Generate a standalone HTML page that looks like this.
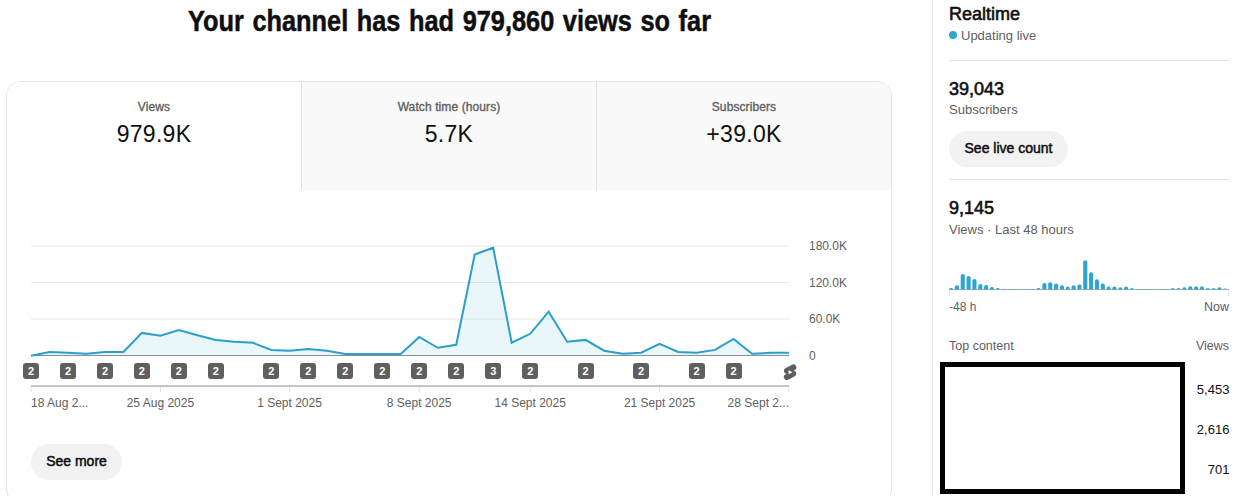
<!DOCTYPE html>
<html><head><meta charset="utf-8"><style>
*{margin:0;padding:0;box-sizing:border-box}
html,body{width:1239px;height:496px;overflow:hidden;background:#fff}
body{position:relative;font-family:"Liberation Sans",sans-serif;color:#0f0f0f}
.a{position:absolute;white-space:nowrap}
#title{position:absolute;left:0;top:4.1px;width:898px;text-align:center;font-weight:bold;font-size:30px;line-height:34px;color:#0f0f0f;-webkit-text-stroke:0.5px #0f0f0f}
#title span{display:inline-block;word-spacing:1.8px;transform:scaleX(0.845);transform-origin:center}
#card{position:absolute;left:6px;top:81px;width:886px;height:423px;border:1px solid #e3e3e3;border-radius:15px;overflow:hidden;background:#fff}
.tab{position:absolute;top:0;height:108px;text-align:center}
.tl{position:absolute;left:0;right:0;top:18px;font-size:12px;line-height:14px;color:#606060;letter-spacing:0.1px;-webkit-text-stroke:0.35px #606060}
.tv{position:absolute;left:0;right:0;top:38px;font-size:23px;line-height:28px;color:#0f0f0f;letter-spacing:0.3px}
svg{position:absolute;left:0;top:0}
.bd{position:absolute;top:363px;width:16px;height:16px;border-radius:3px;background:#5f5f5f;color:#fff;font-weight:bold;font-size:11px;line-height:16px;text-align:center}
.xl{position:absolute;top:396px;font-size:12px;line-height:14px;color:#606060;white-space:nowrap}
.yl{position:absolute;left:809px;font-size:12px;line-height:14px;color:#606060}
.btn{position:absolute;background:#f2f2f2;border-radius:18px;height:36px;font-size:14px;line-height:34px;text-align:center;color:#0f0f0f;-webkit-text-stroke:0.5px #0f0f0f}
#vline{position:absolute;left:932px;top:0;width:1px;height:496px;background:#e3e3e3}
.hr{position:absolute;left:949px;width:280px;height:1px;background:#e3e3e3}
.big{position:absolute;left:949px;font-size:18px;line-height:22px;color:#0f0f0f;-webkit-text-stroke:0.6px #0f0f0f}
.sub{position:absolute;left:949px;font-size:13px;line-height:16px;color:#606060;white-space:nowrap}
.sm{position:absolute;font-size:12px;line-height:14px;color:#606060;white-space:nowrap}
.num{position:absolute;right:9.6px;font-size:13px;line-height:16px;color:#0f0f0f;text-align:right}
</style></head><body>
<div id="title"><span>Your channel has had 979,860 views so far</span></div>
<div id="card">
  <div class="tab" style="left:0;width:294px;background:#fff"><div class="tl">Views</div><div class="tv">979.9K</div></div>
  <div class="tab" style="left:294px;width:295px;background:#f9f9f9;border-left:1px solid #e3e3e3"><div class="tl">Watch time (hours)</div><div class="tv">5.7K</div></div>
  <div class="tab" style="left:589px;width:295px;background:#f9f9f9;border-left:1px solid #e3e3e3"><div class="tl">Subscribers</div><div class="tv">+39.0K</div></div>
</div>
<svg width="932" height="496" viewBox="0 0 932 496">
  <g stroke="#e9e9e9" stroke-width="1">
    <line x1="31" y1="246" x2="789" y2="246"/>
    <line x1="31" y1="282.5" x2="789" y2="282.5"/>
    <line x1="31" y1="319" x2="789" y2="319"/>
  </g>
  <polygon points="31,355.5 31.00,355.7 49.49,351.9 67.98,352.7 86.46,353.7 104.95,352.0 123.44,352.0 141.93,332.9 160.41,335.7 178.90,330.0 197.39,335.2 215.88,340.0 234.37,341.8 252.85,342.8 271.34,350.0 289.83,350.8 308.32,348.9 326.80,350.7 345.29,353.9 363.78,353.9 382.27,353.9 400.76,353.9 419.24,337.0 437.73,347.8 456.22,344.8 474.71,254.6 493.20,247.7 511.68,342.7 530.17,333.8 548.66,311.7 567.15,341.7 585.63,339.9 604.12,350.7 622.61,353.7 641.10,352.7 659.59,343.8 678.07,352.0 696.56,352.8 715.05,349.9 733.54,338.9 752.02,353.8 770.51,352.8 789.00,352.8 789,355.5" fill="#2aa3d0" fill-opacity="0.1"/>
  <line x1="31" y1="355.5" x2="789" y2="355.5" stroke="#8c8c8c" stroke-width="1"/>
  <polyline points="31.00,355.7 49.49,351.9 67.98,352.7 86.46,353.7 104.95,352.0 123.44,352.0 141.93,332.9 160.41,335.7 178.90,330.0 197.39,335.2 215.88,340.0 234.37,341.8 252.85,342.8 271.34,350.0 289.83,350.8 308.32,348.9 326.80,350.7 345.29,353.9 363.78,353.9 382.27,353.9 400.76,353.9 419.24,337.0 437.73,347.8 456.22,344.8 474.71,254.6 493.20,247.7 511.68,342.7 530.17,333.8 548.66,311.7 567.15,341.7 585.63,339.9 604.12,350.7 622.61,353.7 641.10,352.7 659.59,343.8 678.07,352.0 696.56,352.8 715.05,349.9 733.54,338.9 752.02,353.8 770.51,352.8 789.00,352.8" fill="none" stroke="#2a9fcb" stroke-width="2" stroke-linejoin="miter"/>
  <line x1="31" y1="386" x2="789" y2="386" stroke="#c4c4c4" stroke-width="2"/>
  <g stroke="#e0e0e0" stroke-width="1"><line x1="31.0" y1="387" x2="31.0" y2="392" /><line x1="160.4" y1="387" x2="160.4" y2="392" /><line x1="289.5" y1="387" x2="289.5" y2="392" /><line x1="419.2" y1="387" x2="419.2" y2="392" /><line x1="530.2" y1="387" x2="530.2" y2="392" /><line x1="659.6" y1="387" x2="659.6" y2="392" /><line x1="789.0" y1="387" x2="789.0" y2="392" /></g>
  <g transform="translate(780.7,362.8) scale(0.785)">
    <path d="M17.77 10.32l-1.2-.5L18 9.06a3.74 3.74 0 00-3.5-6.62L6 6.94a3.74 3.74 0 00.23 6.74l1.2.49L6 14.93a3.75 3.75 0 003.5 6.63l8.5-4.5a3.74 3.74 0 00-.23-6.74z" fill="#5f5f5f"/>
    <path d="M10 14.65v-5.3L15 12l-5 2.65z" fill="#fff"/>
  </g>
</svg>
<div class="bd" style="left:23.0px">2</div><div class="bd" style="left:60.0px">2</div><div class="bd" style="left:97.0px">2</div><div class="bd" style="left:133.9px">2</div><div class="bd" style="left:170.9px">2</div><div class="bd" style="left:207.9px">2</div><div class="bd" style="left:263.3px">2</div><div class="bd" style="left:300.3px">2</div><div class="bd" style="left:337.3px">2</div><div class="bd" style="left:374.3px">2</div><div class="bd" style="left:411.2px">2</div><div class="bd" style="left:448.2px">2</div><div class="bd" style="left:485.2px">3</div><div class="bd" style="left:522.2px">2</div><div class="bd" style="left:577.6px">2</div><div class="bd" style="left:633.1px">2</div><div class="bd" style="left:688.6px">2</div><div class="bd" style="left:725.5px">2</div>
<div class="xl" style="left:31px">18 Aug 2...</div><div class="xl" style="left:100.4px;width:120px;text-align:center">25 Aug 2025</div><div class="xl" style="left:229.5px;width:120px;text-align:center">1 Sept 2025</div><div class="xl" style="left:359.2px;width:120px;text-align:center">8 Sept 2025</div><div class="xl" style="left:470.20000000000005px;width:120px;text-align:center">14 Sept 2025</div><div class="xl" style="left:599.6px;width:120px;text-align:center">21 Sept 2025</div><div class="xl" style="left:669px;width:120px;text-align:right">28 Sept 2...</div>
<div class="yl" style="top:239px">180.0K</div>
<div class="yl" style="top:275.5px">120.0K</div>
<div class="yl" style="top:312px">60.0K</div>
<div class="yl" style="top:348.5px">0</div>
<div class="btn" style="left:31px;top:444px;width:91px">See more</div>

<div id="vline"></div>
<div class="big" style="top:2.6px">Realtime</div>
<div style="position:absolute;left:949px;top:31px;width:8px;height:8px;border-radius:50%;background:#2ea4cf"></div>
<div class="sub" style="left:961px;top:28px">Updating live</div>
<div class="hr" style="top:60px"></div>
<div class="big" style="top:78px">39,043</div>
<div class="sub" style="top:102.4px">Subscribers</div>
<div class="btn" style="left:949px;top:131px;width:119px">See live count</div>
<div class="hr" style="top:179px"></div>
<div class="big" style="top:196.8px">9,145</div>
<div class="sub" style="top:221.6px">Views · Last 48 hours</div>
<svg width="1239" height="496" viewBox="0 0 1239 496" style="left:0;top:0">
  <line x1="949" y1="289.5" x2="1229" y2="289.5" stroke="#b0b0b0" stroke-width="1"/>
  <line x1="949.5" y1="290" x2="949.5" y2="296" stroke="#e5e5e5" stroke-width="1"/>
  <line x1="1228.5" y1="290" x2="1228.5" y2="296" stroke="#e5e5e5" stroke-width="1"/>
  <path d="M949.05,289.6 V289.60 A1.60,1.60 0 0 1 950.65,288.00 H951.55 A1.60,1.60 0 0 1 953.15,289.60 V289.6 Z" fill="#2ea4cf"/><path d="M954.88,289.6 V287.20 A2.00,2.00 0 0 1 956.88,285.20 H956.98 A2.00,2.00 0 0 1 958.98,287.20 V289.6 Z" fill="#2ea4cf"/><path d="M960.72,289.6 V276.00 A2.00,2.00 0 0 1 962.72,274.00 H962.82 A2.00,2.00 0 0 1 964.82,276.00 V289.6 Z" fill="#2ea4cf"/><path d="M966.55,289.6 V278.00 A2.00,2.00 0 0 1 968.55,276.00 H968.65 A2.00,2.00 0 0 1 970.65,278.00 V289.6 Z" fill="#2ea4cf"/><path d="M972.38,289.6 V280.90 A2.00,2.00 0 0 1 974.38,278.90 H974.48 A2.00,2.00 0 0 1 976.48,280.90 V289.6 Z" fill="#2ea4cf"/><path d="M978.22,289.6 V285.90 A2.00,2.00 0 0 1 980.22,283.90 H980.32 A2.00,2.00 0 0 1 982.32,285.90 V289.6 Z" fill="#2ea4cf"/><path d="M984.05,289.6 V286.90 A2.00,2.00 0 0 1 986.05,284.90 H986.15 A2.00,2.00 0 0 1 988.15,286.90 V289.6 Z" fill="#2ea4cf"/><path d="M989.88,289.6 V289.00 A2.00,2.00 0 0 1 991.88,287.00 H991.98 A2.00,2.00 0 0 1 993.98,289.00 V289.6 Z" fill="#2ea4cf"/><path d="M995.72,289.6 V289.60 A1.60,1.60 0 0 1 997.32,288.00 H998.22 A1.60,1.60 0 0 1 999.82,289.60 V289.6 Z" fill="#2ea4cf"/><path d="M1001.55,289.6 V289.60 A0.70,0.70 0 0 1 1002.25,288.90 H1004.95 A0.70,0.70 0 0 1 1005.65,289.60 V289.6 Z" fill="#2ea4cf"/><path d="M1007.38,289.6 V289.60 A0.70,0.70 0 0 1 1008.08,288.90 H1010.78 A0.70,0.70 0 0 1 1011.48,289.60 V289.6 Z" fill="#2ea4cf"/><path d="M1013.22,289.6 V289.60 A0.70,0.70 0 0 1 1013.92,288.90 H1016.62 A0.70,0.70 0 0 1 1017.32,289.60 V289.6 Z" fill="#2ea4cf"/><path d="M1019.05,289.6 V289.60 A0.70,0.70 0 0 1 1019.75,288.90 H1022.45 A0.70,0.70 0 0 1 1023.15,289.60 V289.6 Z" fill="#2ea4cf"/><path d="M1024.88,289.6 V289.60 A0.70,0.70 0 0 1 1025.58,288.90 H1028.28 A0.70,0.70 0 0 1 1028.98,289.60 V289.6 Z" fill="#2ea4cf"/><path d="M1030.72,289.6 V289.60 A0.70,0.70 0 0 1 1031.42,288.90 H1034.12 A0.70,0.70 0 0 1 1034.82,289.60 V289.6 Z" fill="#2ea4cf"/><path d="M1036.55,289.6 V289.60 A1.60,1.60 0 0 1 1038.15,288.00 H1039.05 A1.60,1.60 0 0 1 1040.65,289.60 V289.6 Z" fill="#2ea4cf"/><path d="M1042.38,289.6 V285.00 A2.00,2.00 0 0 1 1044.38,283.00 H1044.48 A2.00,2.00 0 0 1 1046.48,285.00 V289.6 Z" fill="#2ea4cf"/><path d="M1048.22,289.6 V284.30 A2.00,2.00 0 0 1 1050.22,282.30 H1050.32 A2.00,2.00 0 0 1 1052.32,284.30 V289.6 Z" fill="#2ea4cf"/><path d="M1054.05,289.6 V285.40 A2.00,2.00 0 0 1 1056.05,283.40 H1056.15 A2.00,2.00 0 0 1 1058.15,285.40 V289.6 Z" fill="#2ea4cf"/><path d="M1059.88,289.6 V287.20 A2.00,2.00 0 0 1 1061.88,285.20 H1061.98 A2.00,2.00 0 0 1 1063.98,287.20 V289.6 Z" fill="#2ea4cf"/><path d="M1065.72,289.6 V288.40 A2.00,2.00 0 0 1 1067.72,286.40 H1067.82 A2.00,2.00 0 0 1 1069.82,288.40 V289.6 Z" fill="#2ea4cf"/><path d="M1071.55,289.6 V287.30 A2.00,2.00 0 0 1 1073.55,285.30 H1073.65 A2.00,2.00 0 0 1 1075.65,287.30 V289.6 Z" fill="#2ea4cf"/><path d="M1077.38,289.6 V286.40 A2.00,2.00 0 0 1 1079.38,284.40 H1079.48 A2.00,2.00 0 0 1 1081.48,286.40 V289.6 Z" fill="#2ea4cf"/><path d="M1083.22,289.6 V262.30 A2.00,2.00 0 0 1 1085.22,260.30 H1085.32 A2.00,2.00 0 0 1 1087.32,262.30 V289.6 Z" fill="#2ea4cf"/><path d="M1089.05,289.6 V274.30 A2.00,2.00 0 0 1 1091.05,272.30 H1091.15 A2.00,2.00 0 0 1 1093.15,274.30 V289.6 Z" fill="#2ea4cf"/><path d="M1094.88,289.6 V281.30 A2.00,2.00 0 0 1 1096.88,279.30 H1096.98 A2.00,2.00 0 0 1 1098.98,281.30 V289.6 Z" fill="#2ea4cf"/><path d="M1100.72,289.6 V285.40 A2.00,2.00 0 0 1 1102.72,283.40 H1102.82 A2.00,2.00 0 0 1 1104.82,285.40 V289.6 Z" fill="#2ea4cf"/><path d="M1106.55,289.6 V288.40 A2.00,2.00 0 0 1 1108.55,286.40 H1108.65 A2.00,2.00 0 0 1 1110.65,288.40 V289.6 Z" fill="#2ea4cf"/><path d="M1112.38,289.6 V288.40 A2.00,2.00 0 0 1 1114.38,286.40 H1114.48 A2.00,2.00 0 0 1 1116.48,288.40 V289.6 Z" fill="#2ea4cf"/><path d="M1118.22,289.6 V289.30 A2.00,2.00 0 0 1 1120.22,287.30 H1120.32 A2.00,2.00 0 0 1 1122.32,289.30 V289.6 Z" fill="#2ea4cf"/><path d="M1124.05,289.6 V288.40 A2.00,2.00 0 0 1 1126.05,286.40 H1126.15 A2.00,2.00 0 0 1 1128.15,288.40 V289.6 Z" fill="#2ea4cf"/><path d="M1129.88,289.6 V289.60 A1.40,1.40 0 0 1 1131.28,288.20 H1132.58 A1.40,1.40 0 0 1 1133.98,289.60 V289.6 Z" fill="#2ea4cf"/><path d="M1135.72,289.6 V289.60 A0.60,0.60 0 0 1 1136.32,289.00 H1139.22 A0.60,0.60 0 0 1 1139.82,289.60 V289.6 Z" fill="#2ea4cf"/><path d="M1141.55,289.6 V289.60 A0.60,0.60 0 0 1 1142.15,289.00 H1145.05 A0.60,0.60 0 0 1 1145.65,289.60 V289.6 Z" fill="#2ea4cf"/><path d="M1147.38,289.6 V289.60 A0.60,0.60 0 0 1 1147.98,289.00 H1150.88 A0.60,0.60 0 0 1 1151.48,289.60 V289.6 Z" fill="#2ea4cf"/><path d="M1153.22,289.6 V289.60 A0.60,0.60 0 0 1 1153.82,289.00 H1156.72 A0.60,0.60 0 0 1 1157.32,289.60 V289.6 Z" fill="#2ea4cf"/><path d="M1159.05,289.6 V289.60 A0.60,0.60 0 0 1 1159.65,289.00 H1162.55 A0.60,0.60 0 0 1 1163.15,289.60 V289.6 Z" fill="#2ea4cf"/><path d="M1164.88,289.6 V289.60 A0.60,0.60 0 0 1 1165.48,289.00 H1168.38 A0.60,0.60 0 0 1 1168.98,289.60 V289.6 Z" fill="#2ea4cf"/><path d="M1170.72,289.6 V289.60 A1.40,1.40 0 0 1 1172.12,288.20 H1173.42 A1.40,1.40 0 0 1 1174.82,289.60 V289.6 Z" fill="#2ea4cf"/><path d="M1176.55,289.6 V289.60 A1.40,1.40 0 0 1 1177.95,288.20 H1179.25 A1.40,1.40 0 0 1 1180.65,289.60 V289.6 Z" fill="#2ea4cf"/><path d="M1182.38,289.6 V289.20 A2.00,2.00 0 0 1 1184.38,287.20 H1184.48 A2.00,2.00 0 0 1 1186.48,289.20 V289.6 Z" fill="#2ea4cf"/><path d="M1188.22,289.6 V288.20 A2.00,2.00 0 0 1 1190.22,286.20 H1190.32 A2.00,2.00 0 0 1 1192.32,288.20 V289.6 Z" fill="#2ea4cf"/><path d="M1194.05,289.6 V288.20 A2.00,2.00 0 0 1 1196.05,286.20 H1196.15 A2.00,2.00 0 0 1 1198.15,288.20 V289.6 Z" fill="#2ea4cf"/><path d="M1199.88,289.6 V288.20 A2.00,2.00 0 0 1 1201.88,286.20 H1201.98 A2.00,2.00 0 0 1 1203.98,288.20 V289.6 Z" fill="#2ea4cf"/><path d="M1205.72,289.6 V289.60 A1.40,1.40 0 0 1 1207.12,288.20 H1208.42 A1.40,1.40 0 0 1 1209.82,289.60 V289.6 Z" fill="#2ea4cf"/><path d="M1211.55,289.6 V289.60 A1.40,1.40 0 0 1 1212.95,288.20 H1214.25 A1.40,1.40 0 0 1 1215.65,289.60 V289.6 Z" fill="#2ea4cf"/><path d="M1217.38,289.6 V289.20 A2.00,2.00 0 0 1 1219.38,287.20 H1219.48 A2.00,2.00 0 0 1 1221.48,289.20 V289.6 Z" fill="#2ea4cf"/><path d="M1223.22,289.6 V289.60 A1.50,1.50 0 0 1 1224.72,288.10 H1225.82 A1.50,1.50 0 0 1 1227.32,289.60 V289.6 Z" fill="#2ea4cf" opacity="0.45"/>
  <rect x="942.5" y="364.5" width="240" height="127" fill="none" stroke="#000" stroke-width="5"/>
</svg>
<div class="sm" style="left:949px;top:299.5px">-48 h</div>
<div class="sm" style="left:1129px;width:100px;text-align:right;top:299.5px;font-size:12.5px">Now</div>
<div class="sm" style="left:949px;top:338.5px;font-size:12.5px">Top content</div>
<div class="sm" style="left:1129px;width:100px;text-align:right;top:338.5px;font-size:12.5px">Views</div>
<div class="num" style="top:381.9px">5,453</div>
<div class="num" style="top:422px">2,616</div>
<div class="num" style="top:462px">701</div>
</body></html>
